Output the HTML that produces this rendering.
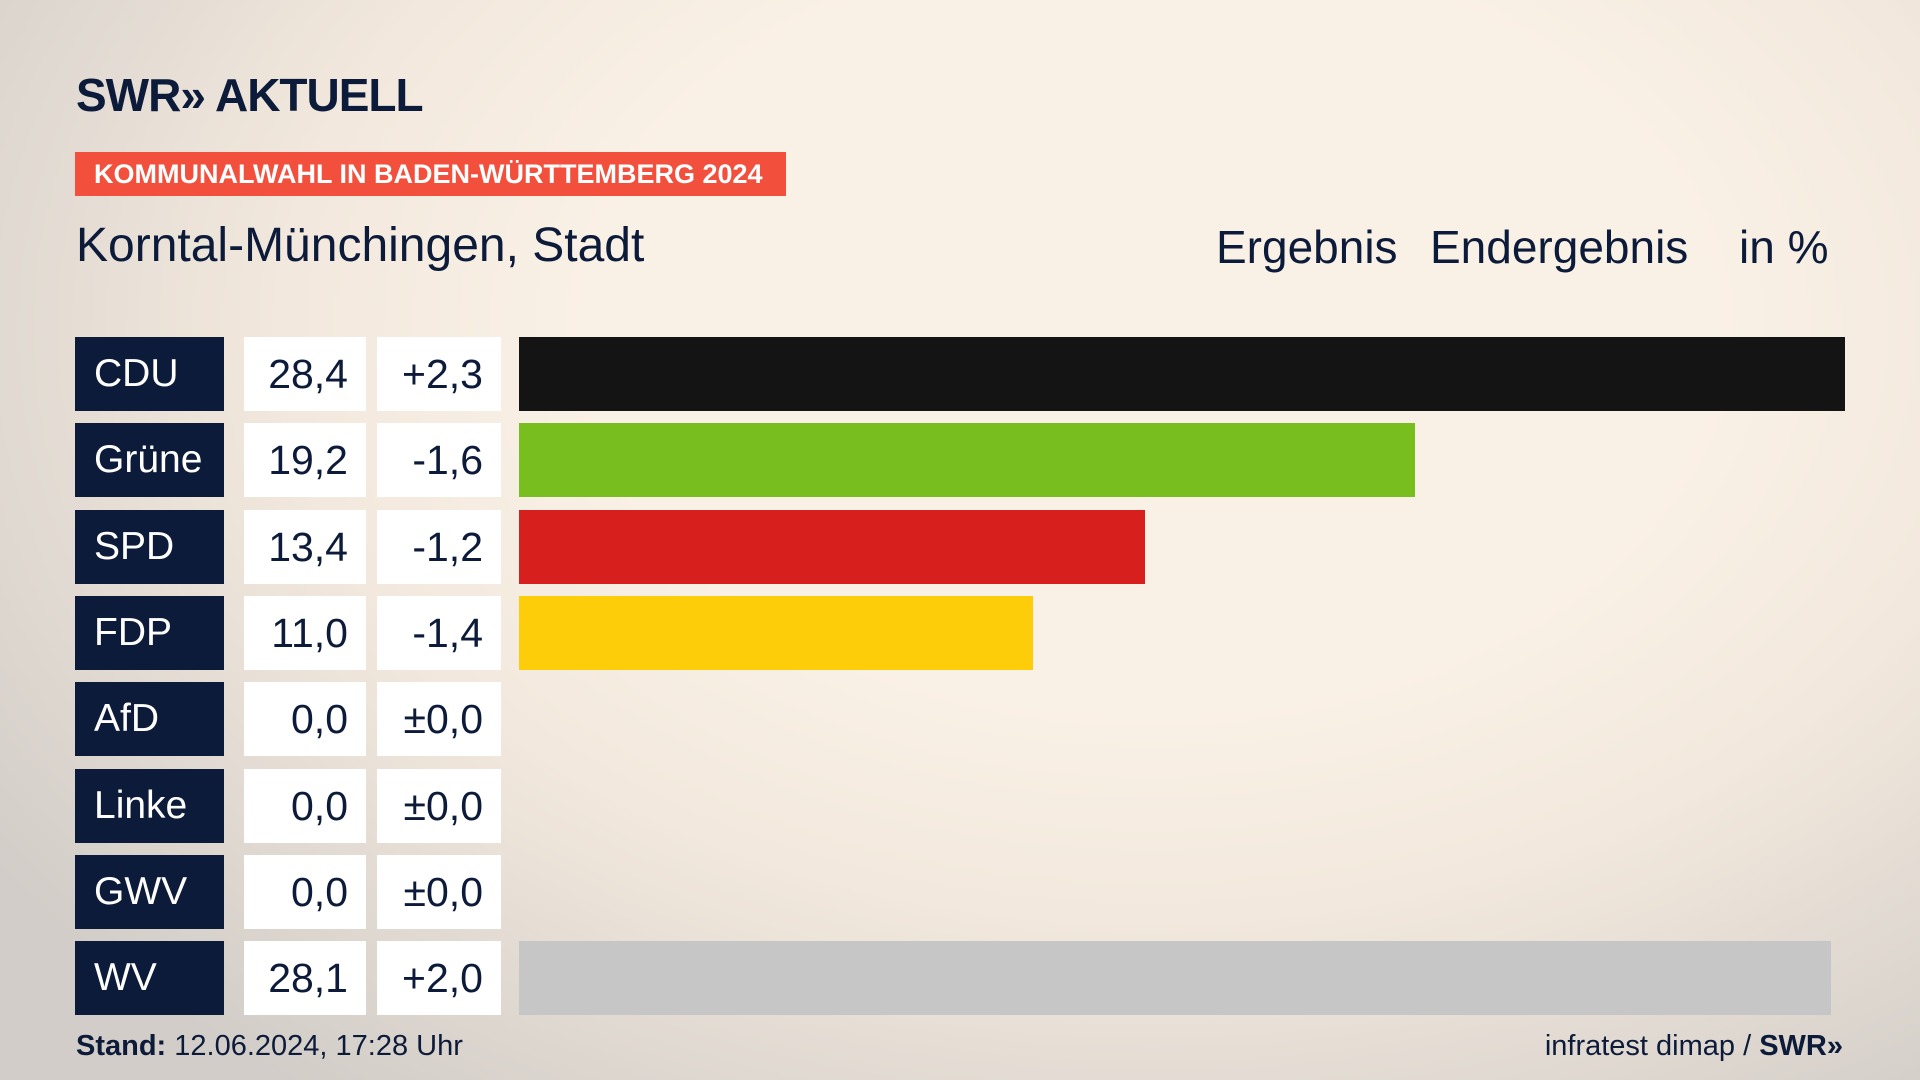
<!DOCTYPE html>
<html><head><meta charset="utf-8"><style>
body{margin:0;width:1920px;height:1080px;overflow:hidden;font-family:"Liberation Sans",sans-serif;}
#bg{position:absolute;left:0;top:0;width:1920px;height:1080px;background:radial-gradient(ellipse 1400px 950px at 1150px 330px,#faf1e6 40%,#f2e8dd 62%,#d2cdc8 100%);}
.abs{position:absolute;}
.party{position:absolute;left:75px;width:149px;height:74px;background:#0d1b3a;color:#fff;font-size:39px;line-height:74px;padding-left:19px;box-sizing:border-box;}
.val{position:absolute;width:122px;height:74px;background:#fff;color:#0d1b3a;font-size:41px;line-height:74px;text-align:right;padding-right:18px;box-sizing:border-box;}
.bar{position:absolute;height:74px;}
</style></head><body>
<div id="bg"></div>
<div class="abs" style="left:76px;top:68px;font-size:46px;font-weight:bold;color:#0d1b3a;letter-spacing:-1px">SWR» AKTUELL</div>
<div class="abs" style="left:75px;top:152px;width:711px;height:44px;background:#f2503c;color:#fff;font-weight:bold;font-size:27px;line-height:44px;padding-left:19px;box-sizing:border-box">KOMMUNALWAHL IN BADEN-WÜRTTEMBERG 2024</div>
<div class="abs" style="left:76px;top:218px;font-size:48px;color:#0d1b3a">Korntal-Münchingen, Stadt</div>
<div class="abs" style="left:1216px;top:220px;font-size:46px;color:#0d1b3a">Ergebnis</div>
<div class="abs" style="left:1430px;top:220px;font-size:46px;color:#0d1b3a">Endergebnis</div>
<div class="abs" style="left:1739px;top:220px;font-size:46px;color:#0d1b3a">in %</div>
<div id="chart"></div>
<div class="abs" style="left:76px;top:1030px;font-size:29px;color:#0d1b3a"><b>Stand:</b> 12.06.2024, 17:28 Uhr</div>
<div class="abs" style="right:77px;top:1030px;font-size:29px;color:#0d1b3a">infratest dimap / <b>SWR»</b></div>
<script>
const parties=["CDU","Grüne","SPD","FDP","AfD","Linke","GWV","WV"];
const results=[28.4,19.2,13.4,11.0,0.0,0.0,0.0,28.1];
const diffs=[2.3,-1.6,-1.2,-1.4,0.0,0.0,0.0,2.0];
const colors=["#141414","#78be1e","#d7201e","#fecd0a","#009ee0","#be3075","#888888","#c6c6c6"];
const x0=519, pxPerPct=46.69, y0=337, step=86.3;
const xs=v=>v*pxPerPct, ys=i=>y0+i*step;
const fmt=v=>v.toFixed(1).replace('.',',');
const fmtD=v=>(v>0?'+':v<0?'-':'±')+Math.abs(v).toFixed(1).replace('.',',');
const c=document.getElementById('chart');
parties.forEach((p,i)=>{
  const y=ys(i);
  const a=document.createElement('div');a.className='party';a.style.top=y+'px';a.textContent=p;
  
  
  c.appendChild(a);
  const v=document.createElement('div');v.className='val';v.style.left='244px';v.style.top=y+'px';v.textContent=fmt(results[i]);
  
  
  c.appendChild(v);
  const d=document.createElement('div');d.className='val';d.style.left='377px';d.style.width='124px';d.style.top=y+'px';d.textContent=fmtD(diffs[i]);
  
  
  c.appendChild(d);
  const b=document.createElement('div');b.className='bar';b.style.left=x0+'px';b.style.top=y+'px';b.style.width=xs(results[i])+'px';b.style.background=colors[i];
  
  
  c.appendChild(b);
});
</script>
</body></html>
